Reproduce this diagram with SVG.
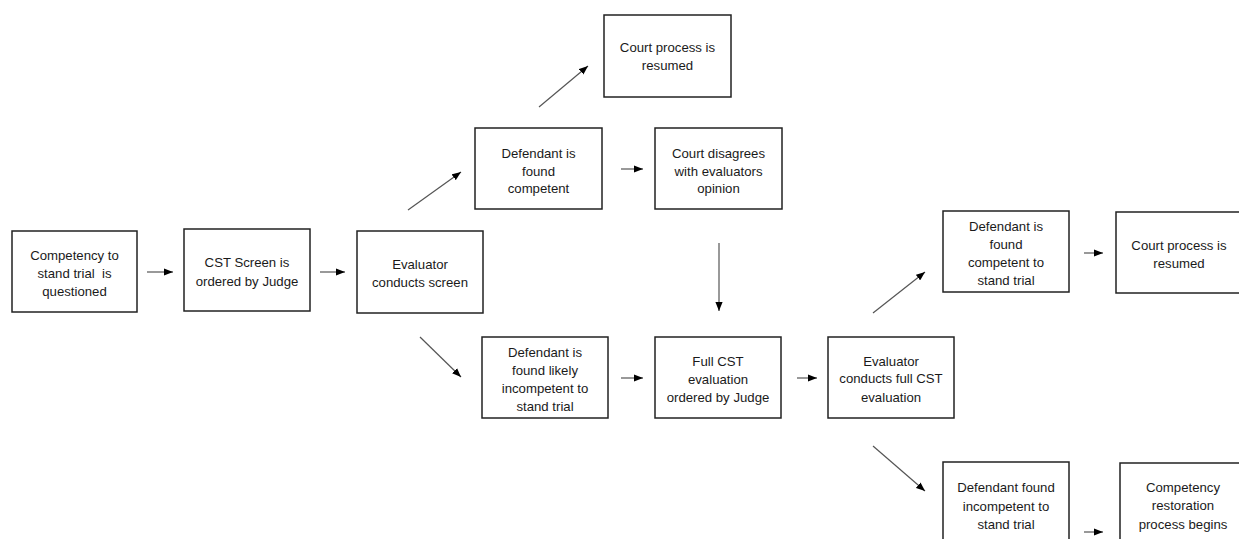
<svg xmlns="http://www.w3.org/2000/svg" width="1239" height="539" viewBox="0 0 1239 539">
<style>
rect.box{fill:#fff;stroke:#222;stroke-width:1.5}
text{font-family:"Liberation Sans",Arial,sans-serif;font-size:13.2px;fill:#1a1a1a;text-anchor:middle}
line.c{stroke:#555;stroke-width:1.2}
</style>
<defs>
<marker id="ah" viewBox="0 0 10 8" refX="10" refY="4" markerWidth="9" markerHeight="7.5" markerUnits="userSpaceOnUse" orient="auto">
<path d="M0,0 L10,4 L0,8 Z" fill="#000"/>
</marker>
</defs>
<rect width="1239" height="539" fill="#fff"/>
<g id="connectors">
<line class="c" x1="147" y1="272" x2="173" y2="272" marker-end="url(#ah)"/>
<line class="c" x1="320" y1="272" x2="345" y2="272" marker-end="url(#ah)"/>
<line class="c" x1="408" y1="210" x2="461" y2="172" marker-end="url(#ah)"/>
<line class="c" x1="539" y1="107" x2="588" y2="66" marker-end="url(#ah)"/>
<line class="c" x1="621" y1="169" x2="643" y2="169" marker-end="url(#ah)"/>
<line class="c" x1="719" y1="243" x2="719" y2="311" marker-end="url(#ah)"/>
<line class="c" x1="420" y1="337" x2="461" y2="377" marker-end="url(#ah)"/>
<line class="c" x1="621" y1="378" x2="643" y2="378" marker-end="url(#ah)"/>
<line class="c" x1="797" y1="378" x2="817" y2="378" marker-end="url(#ah)"/>
<line class="c" x1="873" y1="313" x2="925" y2="272" marker-end="url(#ah)"/>
<line class="c" x1="1084" y1="253" x2="1103" y2="253" marker-end="url(#ah)"/>
<line class="c" x1="873" y1="446" x2="925" y2="491" marker-end="url(#ah)"/>
<line class="c" x1="1084" y1="532" x2="1103" y2="532" marker-end="url(#ah)"/>
</g>
<g id="n1">
<rect class="box" x="12" y="231" width="125" height="81"/>
<text x="74.5" y="259.5">Competency to</text>
<text x="74.5" y="277.5" style="white-space:pre">stand trial  is</text>
<text x="74.5" y="295.5">questioned</text>
</g>
<g id="n2">
<rect class="box" x="184" y="229" width="126" height="82"/>
<text x="247" y="266.5">CST Screen is</text>
<text x="247" y="285.5">ordered by Judge</text>
</g>
<g id="n3">
<rect class="box" x="357" y="231" width="126" height="82"/>
<text x="420" y="268.5">Evaluator</text>
<text x="420" y="286.5">conducts screen</text>
</g>
<g id="n4">
<rect class="box" x="475" y="128" width="127" height="81"/>
<text x="538.5" y="157.5">Defendant is</text>
<text x="538.5" y="175.5">found</text>
<text x="538.5" y="193">competent</text>
</g>
<g id="n5">
<rect class="box" x="604" y="15" width="127" height="82"/>
<text x="667.5" y="51.5">Court process is</text>
<text x="667.5" y="69.5">resumed</text>
</g>
<g id="n6">
<rect class="box" x="655" y="128" width="127" height="81"/>
<text x="718.5" y="157.5">Court disagrees</text>
<text x="718.5" y="175.5">with evaluators</text>
<text x="718.5" y="193">opinion</text>
</g>
<g id="n7">
<rect class="box" x="482" y="337" width="126" height="81"/>
<text x="545" y="356.5">Defendant is</text>
<text x="545" y="374.5">found likely</text>
<text x="545" y="392.5">incompetent to</text>
<text x="545" y="410.5">stand trial</text>
</g>
<g id="n8">
<rect class="box" x="655" y="337" width="126" height="81"/>
<text x="718" y="365.5">Full CST</text>
<text x="718" y="383.5">evaluation</text>
<text x="718" y="401.5">ordered by Judge</text>
</g>
<g id="n9">
<rect class="box" x="828" y="337" width="126" height="81"/>
<text x="891" y="365.5">Evaluator</text>
<text x="891" y="383">conducts full CST</text>
<text x="891" y="401.5">evaluation</text>
</g>
<g id="n10">
<rect class="box" x="943" y="211" width="126" height="81"/>
<text x="1006" y="230.5">Defendant is</text>
<text x="1006" y="248.5">found</text>
<text x="1006" y="267">competent to</text>
<text x="1006" y="284.5">stand trial</text>
</g>
<g id="n11">
<rect class="box" x="1116" y="212" width="126" height="81"/>
<text x="1179" y="249.5">Court process is</text>
<text x="1179" y="267.5">resumed</text>
</g>
<g id="n12">
<rect class="box" x="943" y="462" width="126" height="90"/>
<text x="1006" y="491.5">Defendant found</text>
<text x="1006" y="510.5">incompetent to</text>
<text x="1006" y="528.5">stand trial</text>
</g>
<g id="n13">
<rect class="box" x="1120" y="463" width="126" height="90"/>
<text x="1183" y="491.5">Competency</text>
<text x="1183" y="509.5">restoration</text>
<text x="1183" y="528.5">process begins</text>
</g>
</svg>
